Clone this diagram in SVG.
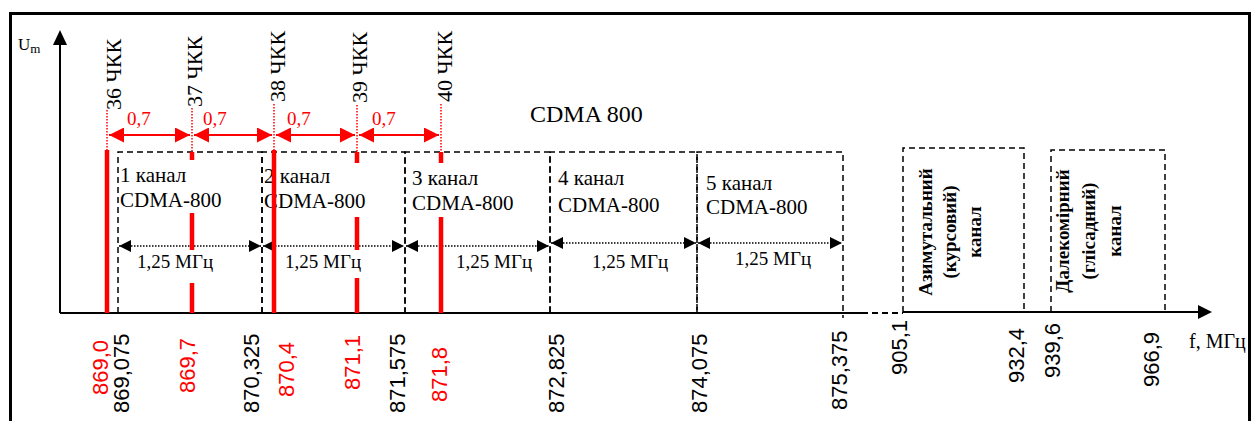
<svg xmlns="http://www.w3.org/2000/svg" width="1254" height="421" viewBox="0 0 1254 421">
<style>
.t{font-family:"Liberation Serif","Times New Roman",serif;fill:#000}
.r{fill:#f00}
.n{font-family:"Liberation Sans",Arial,sans-serif;font-size:22px}
.ch{font-size:21px}
.bw{font-size:19px}
.ck{font-size:22px}
.bx{font-family:"Liberation Serif","Times New Roman",serif;font-size:19px;font-weight:bold}
.box{fill:none;stroke:#000;stroke-width:1.5;stroke-dasharray:6 4}
.red{stroke:#f00;stroke-width:4.5;fill:none}
.rdot{stroke:#f00;stroke-width:1.5;stroke-dasharray:1.5 1.5;fill:none}
.rarr{stroke:#f00;stroke-width:2;fill:none}
.barr{stroke:#000;stroke-width:1.5;stroke-dasharray:1.5 1.5;fill:none}
.axis{stroke:#000;stroke-width:2;fill:none}
</style>
<defs>
<marker id="ra" viewBox="0 0 15 15" markerWidth="15" markerHeight="15" refX="15" refY="7.5" orient="auto-start-reverse" markerUnits="userSpaceOnUse"><path d="M0,0 L15,7.5 L0,15 Z" fill="#f00"/></marker>
<marker id="ba" viewBox="0 0 12 12" markerWidth="12" markerHeight="12" refX="12" refY="6" orient="auto-start-reverse" markerUnits="userSpaceOnUse"><path d="M0,0 L12,6 L0,12 Z" fill="#000"/></marker>
</defs>
<rect x="0" y="0" width="1254" height="421" fill="#fff"/>
<rect x="10.5" y="13.5" width="1239" height="440" fill="none" stroke="#000" stroke-width="3"/>

<g id="axes">
<path class="axis" d="M60,313 V44"/>
<path d="M60,30 L53,45 L67,45 Z" fill="#000"/>
<text class="t" x="18" y="50" font-size="17">U<tspan font-size="13" dy="3">m</tspan></text>
<path class="axis" d="M60,313 H862"/>
<path class="axis" d="M862,313 H903" stroke-dasharray="6 4"/>
<path class="axis" d="M903,312 H1199"/>
<path d="M1212,312 L1198,305 L1198,319 Z" fill="#000"/>
<text class="t" x="1189" y="348" font-size="20">f, МГц</text>
</g>

<g id="ch1"><path class="box" d="M118,313 V152 H262 V313"/>
<text class="t ch" x="120" y="182">1 канал</text><text class="t ch" x="120" y="207">CDMA-800</text></g>
<g id="ch2"><path class="box" d="M262,313 V152 H405 V313"/>
<text class="t ch" x="264" y="183">2 канал</text><text class="t ch" x="264" y="208">CDMA-800</text></g>
<g id="ch3"><path class="box" d="M405,313 V152 H550 V313"/>
<text class="t ch" x="412" y="185">3 канал</text><text class="t ch" x="412" y="210">CDMA-800</text></g>
<g id="ch4"><path class="box" d="M550,313 V152 H697 V313"/>
<text class="t ch" x="558" y="185">4 канал</text><text class="t ch" x="558" y="212">CDMA-800</text></g>
<g id="ch5"><path class="box" d="M697,313 V152 H843 V318"/>
<text class="t ch" x="706" y="190">5 канал</text><text class="t ch" x="706" y="214">CDMA-800</text></g>

<g id="azimuth"><path class="box" d="M903,312 V148 H1024 V312"/>
<text class="bx" text-anchor="middle" transform="translate(932,232) rotate(-90)">Азимутальний</text>
<text class="bx" text-anchor="middle" transform="translate(956,232) rotate(-90)">(курсовий)</text>
<text class="bx" text-anchor="middle" transform="translate(981,232) rotate(-90)">канал</text></g>
<g id="range"><path class="box" d="M1051,312 V150 H1165 V312"/>
<text class="bx" text-anchor="middle" transform="translate(1069,231) rotate(-90)">Далекомірний</text>
<text class="bx" text-anchor="middle" transform="translate(1095,231) rotate(-90)">(глісадний)</text>
<text class="bx" text-anchor="middle" transform="translate(1121,231) rotate(-90)">канал</text></g>

<text class="t" x="530" y="122" font-size="24">CDMA 800</text>

<g id="connectors">
<path class="barr" d="M119,246 H261" marker-start="url(#ba)" marker-end="url(#ba)"/>
<path class="barr" d="M263,246 H404" marker-start="url(#ba)" marker-end="url(#ba)"/>
<path class="barr" d="M406,246 H549" stroke-width="3" stroke-dasharray="3 3" marker-start="url(#ba)" marker-end="url(#ba)"/>
<path class="barr" d="M551,243 H696" marker-start="url(#ba)" marker-end="url(#ba)"/>
<path class="barr" d="M698,243 H842" marker-start="url(#ba)" marker-end="url(#ba)"/>
<path class="rdot" d="M107,110 V150 M192,108 V152 M274,104 V150 M357,105 V152 M441,104 V152"/>
<path class="rarr" d="M109,135 H190" marker-start="url(#ra)" marker-end="url(#ra)"/>
<path class="rarr" d="M194,135 H272" marker-start="url(#ra)" marker-end="url(#ra)"/>
<path class="rarr" d="M276,135 H355" marker-start="url(#ra)" marker-end="url(#ra)"/>
<path class="rarr" d="M359,135 H439" marker-start="url(#ra)" marker-end="url(#ra)"/>
</g>

<g id="carriers">
<path class="red" d="M107,150 V313"/>
<path class="red" d="M192,152 V160 M192,213 V250 M192,283 V313"/>
<path class="red" d="M274,150 V313"/>
<path class="red" d="M357,152 V163 M357,217 V250 M357,278 V313"/>
<path class="red" d="M441,152 V163 M441,217 V313"/>
</g>

<g id="labels-bw">
<text class="t bw" x="137" y="268">1,25 МГц</text>
<text class="t bw" x="285" y="268">1,25 МГц</text>
<text class="t bw" x="456" y="268">1,25 МГц</text>
<text class="t bw" x="592" y="268">1,25 МГц</text>
<text class="t bw" x="735" y="265">1,25 МГц</text>
</g>

<g id="labels-step">
<text class="t r" font-size="19" x="127" y="125">0,7</text>
<text class="t r" font-size="19" x="203" y="125">0,7</text>
<text class="t r" font-size="19" x="287" y="125">0,7</text>
<text class="t r" font-size="19" x="372" y="125">0,7</text>
</g>

<g id="labels-ckk">
<text class="t ck" transform="translate(121,110) rotate(-90)">36 ЧКК</text>
<text class="t ck" transform="translate(202,107) rotate(-90)">37 ЧКК</text>
<text class="t ck" transform="translate(285,102) rotate(-90)">38 ЧКК</text>
<text class="t ck" transform="translate(367,103) rotate(-90)">39 ЧКК</text>
<text class="t ck" transform="translate(452,102) rotate(-90)">40 ЧКК</text>
</g>

<g id="labels-freq">
<text class="n r" font-size="24" transform="translate(108,395) rotate(-90)">869,0</text>
<text class="n" transform="translate(129,413) rotate(-90)">869,075</text>
<text class="n r" transform="translate(195,393) rotate(-90)">869,7</text>
<text class="n" transform="translate(259,413) rotate(-90)">870,325</text>
<text class="n r" transform="translate(294,397) rotate(-90)">870,4</text>
<text class="n r" transform="translate(360,390) rotate(-90)">871,1</text>
<text class="n" transform="translate(405,413) rotate(-90)">871,575</text>
<text class="n r" transform="translate(447,402) rotate(-90)">871,8</text>
<text class="n" transform="translate(564,413) rotate(-90)">872,825</text>
<text class="n" transform="translate(707,413) rotate(-90)">874,075</text>
<text class="n" transform="translate(847,410) rotate(-90)">875,375</text>
<text class="n" transform="translate(907,375) rotate(-90)">905,1</text>
<text class="n" transform="translate(1024,383) rotate(-90)">932,4</text>
<text class="n" transform="translate(1060,378) rotate(-90)">939,6</text>
<text class="n" transform="translate(1159,387) rotate(-90)">966,9</text>
</g>
</svg>
